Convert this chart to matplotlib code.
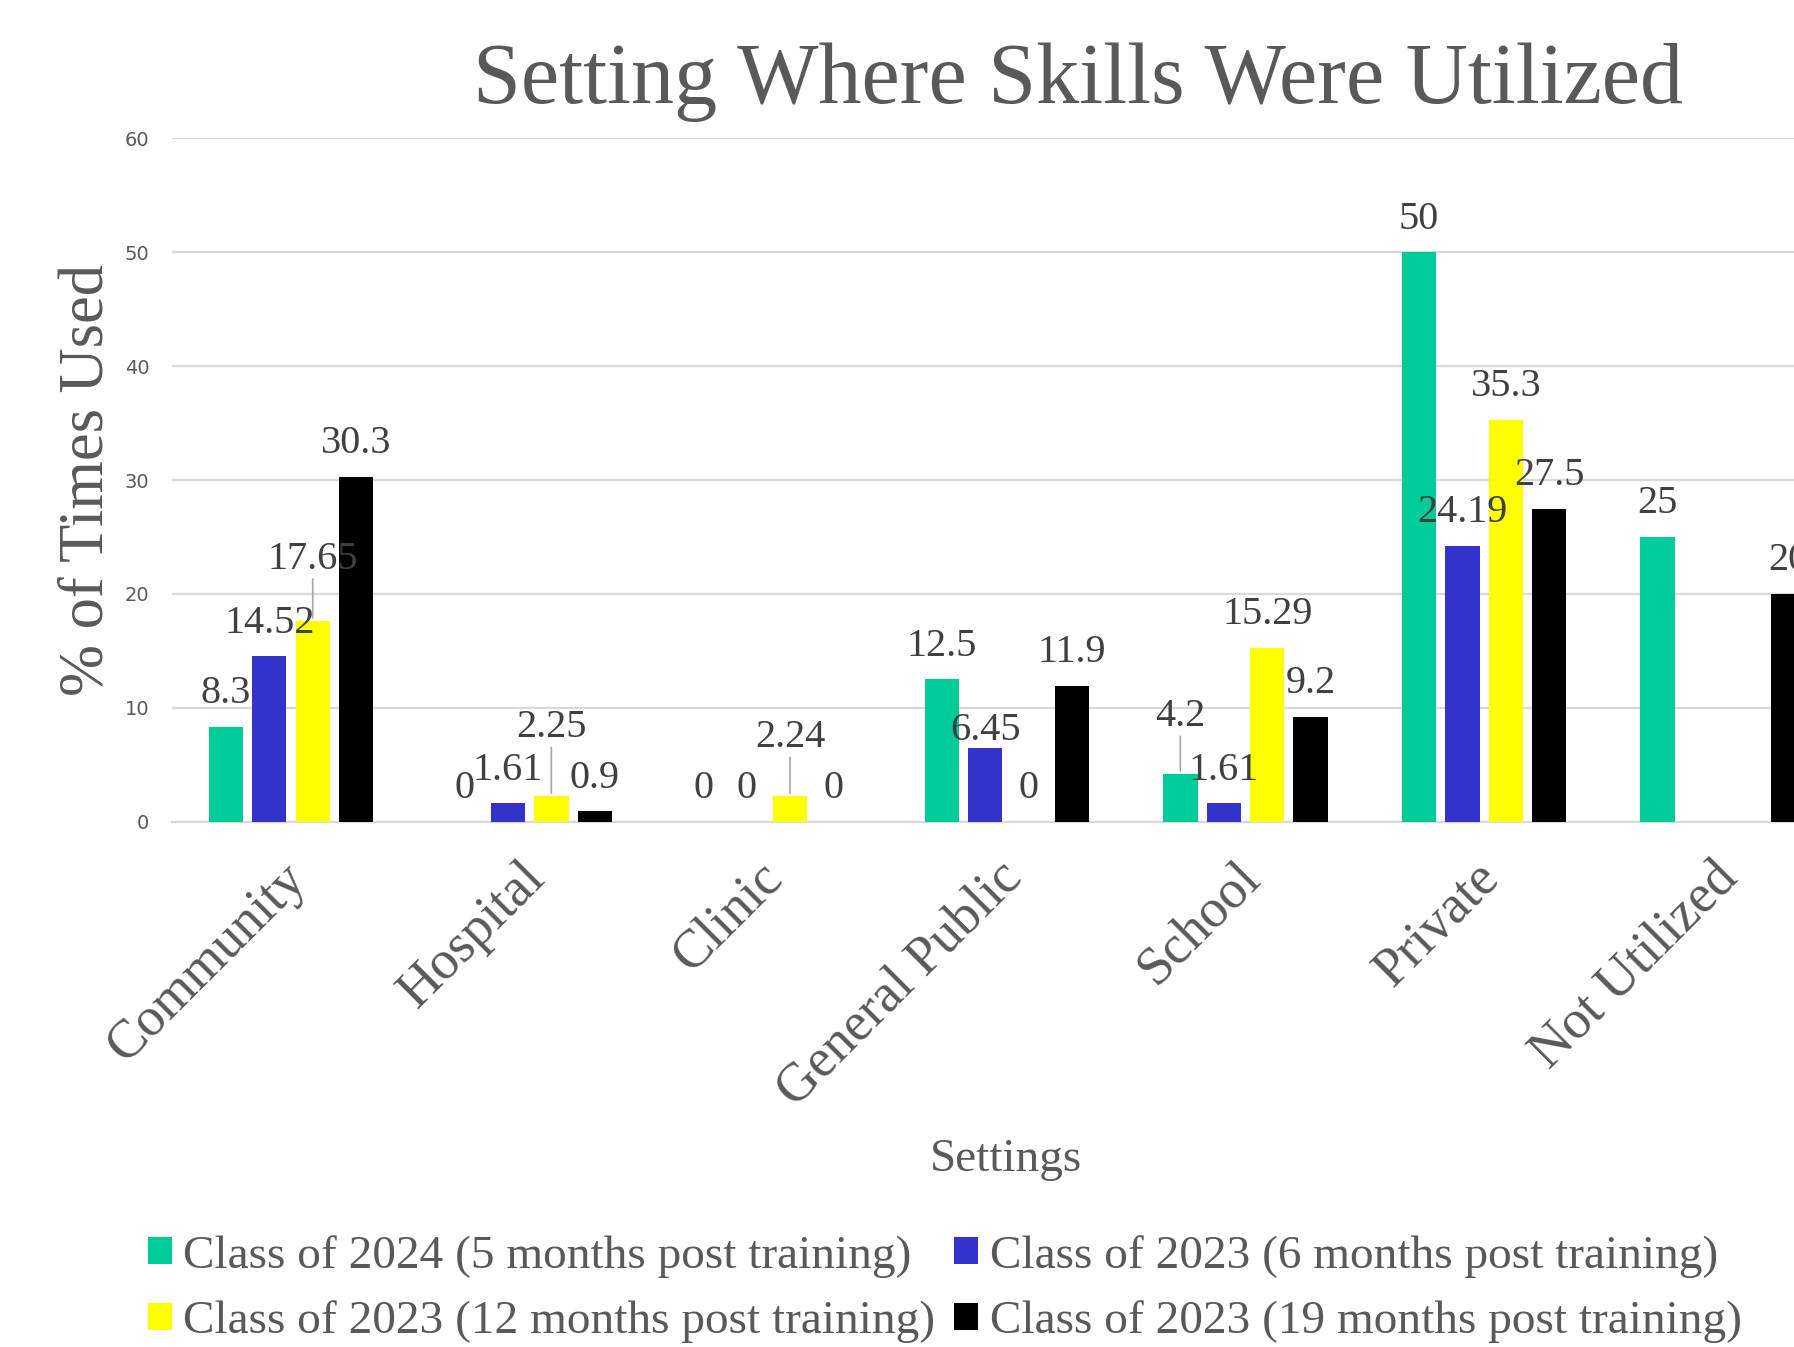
import matplotlib
matplotlib.use("Agg")
import matplotlib.pyplot as plt
from matplotlib.transforms import ScaledTranslation
import numpy as np

# data
categories = ["Community", "Hospital", "Clinic", "General Public", "School", "Private", "Not Utilized"]
series_names = ["Class of 2024 (5 months post training)",
                "Class of 2023 (6 months post training)",
                "Class of 2023 (12 months post training)",
                "Class of 2023 (19 months post training)"]
class2024_5mo = [8.3, 0, 0, 12.5, 4.2, 50, 25]
class2023_6mo = [14.52, 1.61, 0, 6.45, 1.61, 24.19, np.nan]
class2023_12mo = [17.65, 2.25, 2.24, 0, 15.29, 35.3, np.nan]
class2023_19mo = [30.3, 0.9, 0, 11.9, 9.2, 27.5, 20]
label_text = {
    (0, 0): "8.3", (0, 1): "14.52", (0, 2): "17.65", (0, 3): "30.3",
    (1, 0): "0", (1, 1): "1.61", (1, 2): "2.25", (1, 3): "0.9",
    (2, 0): "0", (2, 1): "0", (2, 2): "2.24", (2, 3): "0",
    (3, 0): "12.5", (3, 1): "6.45", (3, 2): "0", (3, 3): "11.9",
    (4, 0): "4.2", (4, 1): "1.61", (4, 2): "15.29", (4, 3): "9.2",
    (5, 0): "50", (5, 1): "24.19", (5, 2): "35.3", (5, 3): "27.5",
    (6, 0): "25", (6, 3): "20",
}

colors = ["#00CC99", "#3333CC", "#FFFF00", "#000000"]
series = [class2024_5mo, class2023_6mo, class2023_12mo, class2023_19mo]

# labels that were pulled up with a leader line (extra offset in points)
moved_up = {(0, 2): 20, (1, 2): 25, (2, 2): 18, (4, 0): 17}
moved_other = {(3, 1): -11}

serif = ["Liberation Serif", "DejaVu Serif"]
gray = "#595959"

fig = plt.figure(figsize=(17.94, 13.47), dpi=100)
ax = fig.add_axes([0.0957, 0.39, 1.0268 - 0.0957, 0.8972 - 0.39])

x = np.arange(len(categories))
step = 0.182
width = 0.144
handles = []
for i, (vals, col) in enumerate(zip(series, colors)):
    pos = x + (i - 1.5) * step
    b = ax.bar(pos, vals, width, color=col, label=series_names[i], zorder=3)
    handles.append(b)
    for j, v in enumerate(vals):
        if np.isnan(v):
            continue
        dy = 24
        if (j, i) in moved_up:
            dy += moved_up[(j, i)]
            ax.annotate("", xy=(pos[j], v), xytext=(0, dy - 12), textcoords="offset points",
                        arrowprops=dict(arrowstyle="-", color="#a6a6a6", lw=1.2), zorder=4)
        if (j, i) in moved_other:
            dy += moved_other[(j, i)]
        ax.annotate(label_text[(j, i)], xy=(pos[j], v), xytext=(0, dy),
                    textcoords="offset points", ha="center", va="center",
                    fontsize=29, family=serif, color="#404040", zorder=5)

ax.set_xlim(-0.5, len(categories) - 0.5)
ax.set_ylim(0, 60)
ax.set_yticks(range(0, 61, 10))
ax.yaxis.grid(True, color="#d9d9d9", lw=1.6, zorder=0)
ax.set_axisbelow(True)
for s in ["top", "right", "left"]:
    ax.spines[s].set_visible(False)
ax.spines["bottom"].set_color("#d9d9d9")
ax.spines["bottom"].set_linewidth(1.6)
ax.tick_params(axis="y", length=0, pad=16, labelsize=14, labelcolor=gray)
ax.tick_params(axis="x", length=0, pad=24)
ax.set_xticks(x)
ax.set_xticklabels(categories, rotation=45, ha="right", rotation_mode="anchor",
                   fontsize=39, family=serif, color=gray)
shift = ScaledTranslation(-0.1, 0.02, fig.dpi_scale_trans)
for lbl in ax.get_xticklabels():
    lbl.set_transform(lbl.get_transform() + shift)

fig.text(0.601, 0.939, "Setting Where Skills Were Utilized", ha="center", va="center",
         fontsize=62, family=serif, color=gray)
fig.text(0.0485, 0.644, "% of Times Used", ha="center", va="center", rotation=90,
         fontsize=45, family=serif, color=gray)
fig.text(0.561, 0.139, "Settings", ha="center", va="center",
         fontsize=34, family=serif, color=gray)

order = [0, 2, 1, 3]
leg = fig.legend([handles[k] for k in order], [series_names[k] for k in order],
                 ncol=2, loc="center left", bbox_to_anchor=(0.072, 0.043), frameon=False,
                 prop={"family": serif, "size": 34}, handlelength=0.5, handleheight=0.5,
                 handletextpad=0.25, columnspacing=0.4, labelspacing=0.49,
                 labelcolor=gray, borderaxespad=0)

fig.savefig("out.png", dpi=100)
